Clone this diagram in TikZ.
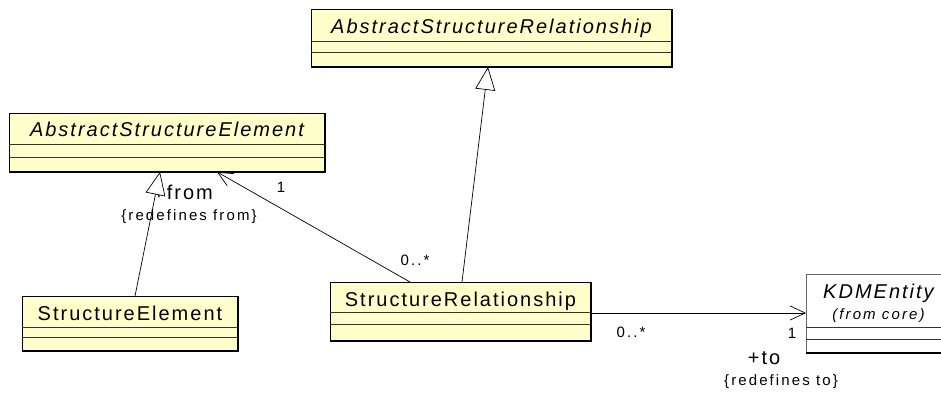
\documentclass[tikz,border=0pt]{standalone}
\usepackage{fontspec}
\usetikzlibrary{arrows.meta,calc}
\newfontfamily\bigf[LetterSpace=10]{Liberation Sans}
\newfontfamily\smallf[LetterSpace=14]{Liberation Sans}
\definecolor{clsfill}{HTML}{FFFFCC}
\tikzset{
  cls/.style={draw=black, line width=0.9pt, fill=clsfill, rectangle, inner sep=0pt, anchor=north west},
  title/.style={font=\bigf\fontsize{20}{22}\selectfont, inner sep=0pt, anchor=base},
  ititle/.style={font=\bigf\itshape\fontsize{20}{22}\selectfont, inner sep=0pt, anchor=base},
  lbl/.style={font=\smallf\fontsize{15}{17}\selectfont, inner sep=0pt},
  biglbl/.style={font=\bigf\fontsize{20}{22}\selectfont, inner sep=0pt},
  comp/.style={draw=black!80, line width=0.8pt},
  gen/.style={draw=black, line width=0.7pt, -{Triangle[length=23pt,width=20pt,fill=white,line width=0.7pt]}},
  assoc/.style={draw=black, line width=0.7pt, -{Straight Barb[length=15pt,width=14pt,line width=0.7pt]}},
}
\begin{document}
\begin{tikzpicture}[x=1pt,y=-1pt]
\useasboundingbox (0,0) rectangle (941,394);
% labels
\node[lbl] (l1a) at (281,187) {1};
\node[lbl] (l0a) at (415,260) {0..*};
\node[biglbl] (lfrom) at (183,192) {+from};
\node[lbl] (lrf) at (189,217) {\{redefines from\}};
\node[lbl] (l0b) at (631,332) {0..*};
\node[lbl] (l1b) at (792,333) {1};
\node[biglbl] (lto) at (764,358) {+to};
\node[lbl] (lrt) at (781,382) {\{redefines to\}};
% boxes
\node[cls, minimum width=360pt, minimum height=57pt] (ASR) at (311,9) {};
\node[ititle] at ($(ASR.north)+(0,24)$) {AbstractStructureRelationship};
\draw[comp] ($(ASR.north west)+(0,32)$) -- ($(ASR.north east)+(0,32)$);
\draw[comp] ($(ASR.north west)+(0,43)$) -- ($(ASR.north east)+(0,43)$);
\draw[line width=1.6pt] (ASR.north east) -- (ASR.south east) -- (ASR.south west);

\node[cls, minimum width=315pt, minimum height=58pt] (ASE) at (9,113) {};
\node[ititle] at ($(ASE.north)+(0,23)$) {AbstractStructureElement};
\draw[comp] ($(ASE.north west)+(0,31)$) -- ($(ASE.north east)+(0,31)$);
\draw[comp] ($(ASE.north west)+(0,44)$) -- ($(ASE.north east)+(0,44)$);
\draw[line width=1.6pt] (ASE.north east) -- (ASE.south east) -- (ASE.south west);

\node[cls, minimum width=215pt, minimum height=54pt] (SE) at (22,296) {};
\node[title] at ($(SE.north)+(0,24)$) {StructureElement};
\draw[comp] ($(SE.north west)+(0,31)$) -- ($(SE.north east)+(0,31)$);
\draw[comp] ($(SE.north west)+(0,41)$) -- ($(SE.north east)+(0,41)$);
\draw[line width=1.6pt] (SE.north east) -- (SE.south east) -- (SE.south west);

\node[cls, minimum width=260pt, minimum height=58pt] (SR) at (330,282) {};
\node[title] at ($(SR.north)+(0,24)$) {StructureRelationship};
\draw[comp] ($(SR.north west)+(0,30)$) -- ($(SR.north east)+(0,30)$);
\draw[comp] ($(SR.north west)+(0,42)$) -- ($(SR.north east)+(0,42)$);
\draw[line width=1.6pt] (SR.north east) -- (SR.south east) -- (SR.south west);

\node[cls, fill=white, draw=black!60, minimum width=144pt, minimum height=78pt] (KDM) at (806,274) {};
\node[ititle] at ($(KDM.north)+(0,24)$) {KDMEntity};
\node[lbl, anchor=base, font=\smallf\itshape\fontsize{15}{17}\selectfont] at ($(KDM.north)+(0,45)$) {(from core)};
\draw[comp] ($(KDM.north west)+(0,53)$) -- ($(KDM.north east)+(0,53)$);
\draw[comp] ($(KDM.north west)+(0,65)$) -- ($(KDM.north east)+(0,65)$);
\draw[line width=1.6pt] (KDM.south east) -- (KDM.south west);
% connectors
\draw[gen] ($(SE.north west)+(113,0)$) -- ($(ASE.south west)+(151,0)$);
\draw[gen] ($(SR.north west)+(132,0)$) -- ($(ASR.south west)+(177,0)$);
\draw[assoc] ($(SR.north west)+(80,0)$) -- ($(ASE.south west)+(208,0)$);
\draw[assoc] ($(SR.north east)+(0,31)$) -- ($(KDM.north west)+(0,39)$);
\end{tikzpicture}
\end{document}
